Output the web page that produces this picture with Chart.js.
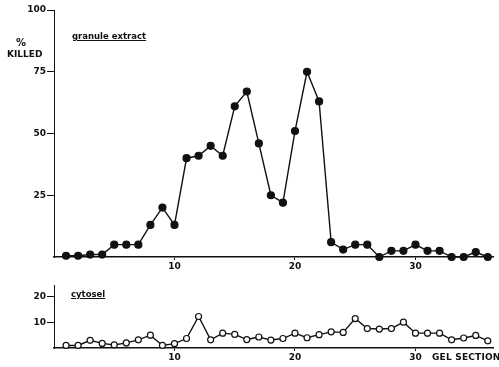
<!DOCTYPE html>
<html lang="en">
<head>
<meta charset="UTF-8">
<title>granule extract / cytosel</title>
<script src="https://cdn.jsdelivr.net/npm/chart.js"></script>
<style>
  html, body { margin: 0; padding: 0; background: #fff; }
  #wrap { position: relative; width: 499px; height: 367px; overflow: hidden; font-family: "DejaVu Sans", sans-serif; color: #111; }
  canvas { position: absolute; left: 0; }
  .lbl { position: absolute; font-weight: bold; white-space: nowrap; line-height: 1; }
</style>
</head>
<body>
<div id="wrap">
  <canvas id="top" width="499" height="275" style="top:0"></canvas>
  <canvas id="bottom" width="499" height="92" style="top:275px"></canvas>
  <div class="lbl" style="left:16px;top:38px;font-size:10px">%</div>
  <div class="lbl" style="left:7px;top:50px;font-size:9px">KILLED</div>
  <div class="lbl" style="left:72px;top:32px;font-size:8.5px;text-decoration:underline">granule extract</div>
  <div class="lbl" style="left:71px;top:290px;font-size:8.5px;text-decoration:underline">cytosel</div>
  <div class="lbl" style="left:432px;top:353px;font-size:9px;letter-spacing:0.2px">GEL SECTION</div>
</div>
<script>
// gel sections 1..36
const sections = [1,2,3,4,5,6,7,8,9,10,11,12,13,14,15,16,17,18,19,20,21,22,23,24,25,26,27,28,29,30,31,32,33,34,35,36];
// % killed, granule extract
const granuleKilled = [0.5,0.5,1,1,5,5,5,13,20,13,40,41,45,41,61,67,46,25,22,51,75,63,6,3,5,5,0,2.5,2.5,5,2.5,2.5,0,0,2,0];
// % killed, cytosol
const cytosolKilled = [1,1,3,1.8,1.2,2,3.2,5,1,1.7,3.7,12.3,3.2,5.8,5.3,3.3,4.3,3.1,3.7,5.8,4,5.2,6.3,6.1,11.5,7.6,7.4,7.6,10.1,5.8,5.8,5.8,3.2,3.9,4.9,2.8];
const topTicks = [25, 50, 75, 100];
const bottomTicks = [10, 20];
const xTicks = [10, 20, 30];

const ink = "#111";
const tickFont = { family: "DejaVu Sans", size: 9, weight: "bold" };

function pts(vals) {
    return sections.map((s, i) => ({ x: s, y: vals[i] }));
}

function makeChart(id, vals, yMax, yTicks, filled, xHeight, topPad) {
    const ctx = document.getElementById(id).getContext("2d");
    return new Chart(ctx, {
        type: "line",
        data: {
            datasets: [{
                data: pts(vals),
                borderColor: ink,
                borderWidth: 1.4,
                pointRadius: filled ? 3.5 : 3,
                pointBackgroundColor: filled ? ink : "#fff",
                pointBorderColor: ink,
                pointBorderWidth: 1.2,
                tension: 0,
                clip: false
            }]
        },
        options: {
            responsive: false,
            animation: false,
            layout: { padding: { top: topPad, right: 0, left: 0, bottom: 0 } },
            plugins: { legend: { display: false }, tooltip: { enabled: false } },
            scales: {
                x: {
                    type: "linear",
                    min: 0,
                    max: 36.5,
                    afterBuildTicks: s => { s.ticks = xTicks.map(v => ({ value: v })); },
                    afterFit: s => { s.height = xHeight; },
                    grid: { drawOnChartArea: false, drawTicks: true, tickLength: 3, color: ink },
                    border: { color: ink, width: 1.6 },
                    ticks: { color: ink, font: tickFont, padding: 1, maxRotation: 0 }
                },
                y: {
                    min: 0,
                    max: yMax,
                    afterBuildTicks: s => { s.ticks = yTicks.map(v => ({ value: v })); },
                    afterFit: s => { s.width = 54; },
                    grid: { drawOnChartArea: false, drawTicks: true, tickLength: 7, color: ink },
                    border: { color: ink, width: 1 },
                    ticks: { color: ink, font: tickFont, padding: 1 }
                }
            }
        }
    });
}

makeChart("top", granuleKilled, 100, topTicks, true, 18, 10);
makeChart("bottom", cytosolKilled, 24.6, bottomTicks, false, 19, 10);
</script>
</body>
</html>
